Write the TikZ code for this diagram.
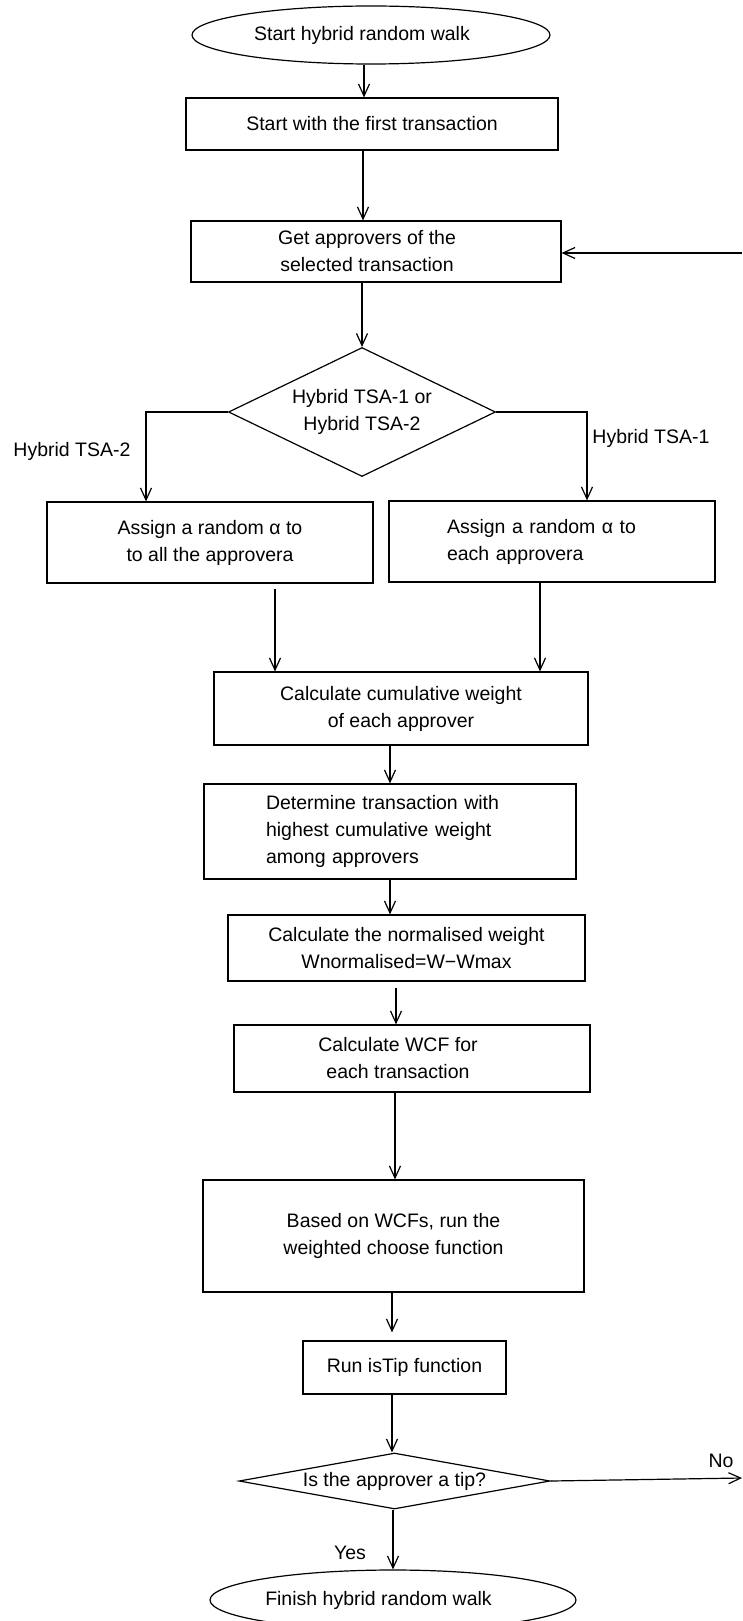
\documentclass[tikz,border=0pt]{standalone}
\usepackage{fontspec}
\setmainfont{Liberation Sans}
\usetikzlibrary{shapes.geometric,arrows.meta}

% pull a centred line to the left by half the given amount
\newcommand{\lft}[1]{\hspace*{-#1}}

\begin{document}
\begin{tikzpicture}[x=1pt,y=-1pt,
  every node/.style={font=\fontsize{19.5}{27}\selectfont, text=black},
  box/.style={draw, line width=1.2pt, rectangle, align=center, inner sep=0pt},
  term/.style={draw, line width=1.2pt, ellipse, inner sep=0pt, align=center},
  dec/.style={draw, line width=1.2pt, diamond, inner sep=0pt, align=center},
  arr/.style={line width=1.2pt, -{Straight Barb[length=12pt,width=11pt]}},
  lbl/.style={inner sep=0pt}]
\useasboundingbox (0,0) rectangle (742,1621);
\clip (0,0) rectangle (742,1621);

% flow steps
\node[term, minimum width=358pt, minimum height=58pt] (start) at (371,35) {\lft{18pt}Start hybrid random walk};
\node[box, minimum width=372pt, minimum height=52pt] (first) at (372,124) {Start with the first transaction};
\node[box, minimum width=370pt, minimum height=61pt] (appr) at (376,251.5) {\lft{18pt}Get approvers of the\\\lft{18pt}selected transaction};
\node[dec, minimum width=267pt, minimum height=129pt, aspect=2.07] (tsa) at (362,412) {Hybrid TSA-1 or\\Hybrid TSA-2};
\node[box, minimum width=326pt, minimum height=81pt] (asgall) at (210,542.5) {Assign a random α to\\to all the approvera};
\node[box, minimum width=326pt, minimum height=81pt, text width=210pt, align=left] (asgeach) at (552,541.5) {Assign a random α to\\each approvera};
\node[box, minimum width=374pt, minimum height=73pt] (cumw) at (401,708.5) {Calculate cumulative weight\\of each approver};
\node[box, minimum width=372pt, minimum height=95pt, text width=248pt, align=left] (highest) at (390,831.5) {Determine transaction with\\highest cumulative weight\\among approvers};
\node[box, minimum width=357pt, minimum height=66pt] (norm) at (406.5,948) {Calculate the normalised weight\\Wnormalised=W−Wmax};
\node[box, minimum width=356pt, minimum height=67pt] (wcf) at (412,1058.5) {\lft{28pt}Calculate WCF for\\\lft{28pt}each transaction};
\node[box, minimum width=381pt, minimum height=112pt] (choose) at (393.5,1236) {Based on WCFs, run the\\weighted choose function};
\node[box, minimum width=203pt, minimum height=53pt] (istip) at (404.5,1367.5) {Run isTip function};
\node[dec, minimum width=311pt, minimum height=56pt, aspect=5.55] (tip) at (394.5,1481) {Is the approver a tip?};
\node[term, minimum width=366pt, minimum height=60pt] (finish) at (393,1600) {\lft{29pt}Finish hybrid random walk};

% branch labels
\node[lbl] (l2) at (72,451) {Hybrid TSA-2};
\node[lbl] (l1) at (651,438) {Hybrid TSA-1};
\node[lbl] (lno) at (721,1461) {No};
\node[lbl] (lyes) at (350,1553) {Yes};

% free ends at the right border
\coordinate (loopin) at (742,253);
\coordinate (noend) at (742,1478);

% connectors
\draw[arr] (364,0 |- start.south) -- (364,0 |- first.north);
\draw[arr] (363,0 |- first.south) -- (363,0 |- appr.north);
\draw[arr] (loopin) -- (loopin -| appr.east);
\draw[arr] (362,0 |- appr.south) -- (tsa.north);
\draw[arr] (tsa.west) -- (146,0 |- tsa.west) -- (146,0 |- asgall.north);
\draw[arr] (tsa.east) -- (587,0 |- tsa.east) -- (587,0 |- asgeach.north);
\draw[arr] (275,0 |- asgall.south) ++(0,5) -- (275,0 |- cumw.north);
\draw[arr] (540,0 |- asgeach.south) -- (540,0 |- cumw.north);
\draw[arr] (390,0 |- cumw.south) -- (390,0 |- highest.north);
\draw[arr] (390,0 |- highest.south) -- (390,0 |- norm.north);
\draw[arr] (396,0 |- norm.south) ++(0,6) -- (396,0 |- wcf.north);
\draw[arr] (395,0 |- wcf.south) -- (395,0 |- choose.north);
\draw[arr, shorten >=8pt] (392,0 |- choose.south) -- (392,0 |- istip.north);
\draw[arr] (392,0 |- istip.south) -- (392,0 |- tip.north);
\draw[arr] (tip.east) -- (noend);
\draw[arr] (393,0 |- tip.south) -- (393,0 |- finish.north);
\end{tikzpicture}
\end{document}
